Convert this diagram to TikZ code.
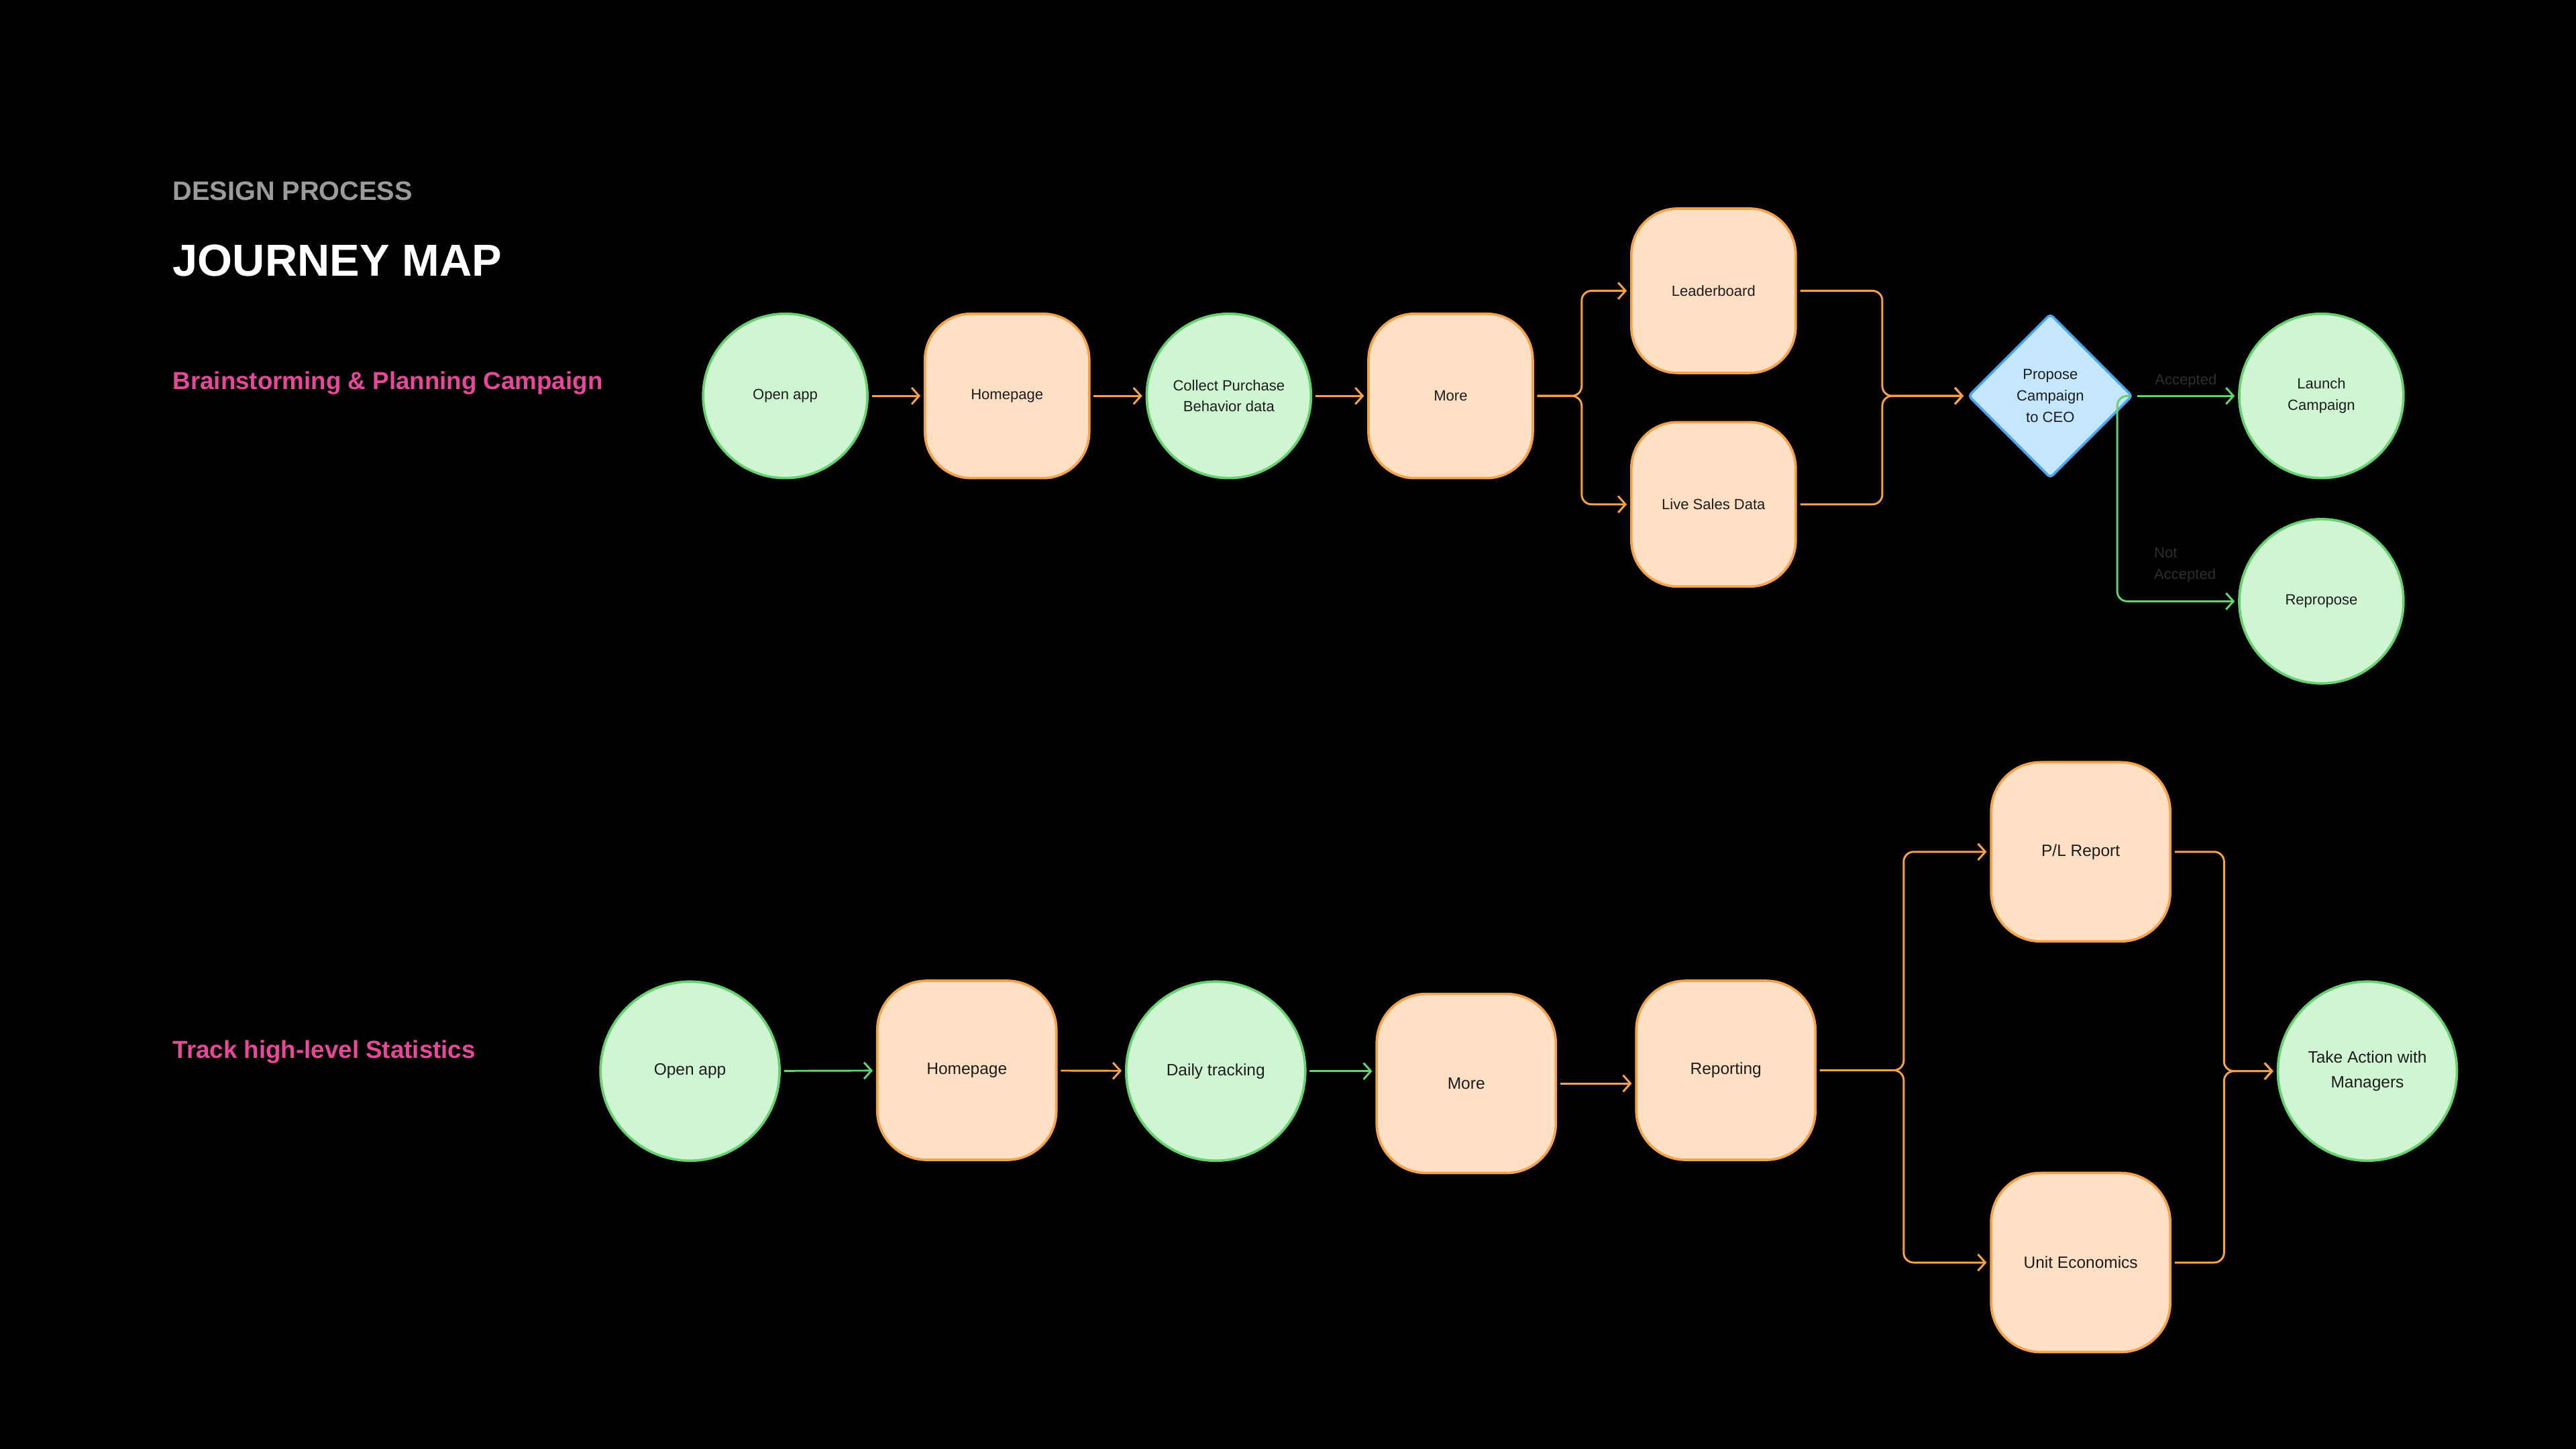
\documentclass[tikz,border=0pt]{standalone}
\usepackage{fontspec}
\setmainfont{Liberation Sans}
\usetikzlibrary{shapes,arrows.meta,positioning,calc}

\definecolor{mintfill}{HTML}{CFF5D3}
\definecolor{mintline}{HTML}{66D16F}
\definecolor{peachfill}{HTML}{FFE0C4}
\definecolor{peachline}{HTML}{F5A24A}
\definecolor{skyfill}{HTML}{C4E6FF}
\definecolor{skyline}{HTML}{4AA6F0}
\definecolor{pinktext}{HTML}{E8489A}
\definecolor{greytext}{HTML}{9B9B9B}
\definecolor{inktext}{HTML}{1C1C1C}
\definecolor{faint}{HTML}{2E2E2E}

\begin{document}
\begin{tikzpicture}[x=1pt, y=-1pt, node distance=135pt,
    >={Straight Barb[length=4.5pt,width=10pt]},
    every node/.style={text=inktext, align=center},
    gcirc/.style={draw=mintline, fill=mintfill, line width=1.5pt, circle, minimum size=100pt, inner sep=2pt, font=\fontsize{9}{13}\selectfont},
    obox/.style={draw=peachline, fill=peachfill, line width=1.5pt, rectangle, rounded corners=28pt, minimum size=100pt, inner sep=2pt, font=\fontsize{9}{13}\selectfont},
    decide/.style={draw=skyline, fill=skyfill, line width=1.5pt, diamond, minimum width=100pt, minimum height=100pt, inner sep=0pt, rounded corners=2pt, font=\fontsize{9}{13}\selectfont},
    big/.style={minimum size=109pt, rounded corners=30pt, font=\fontsize{10}{15}\selectfont},
    oline/.style={->, draw=peachline, line width=1.2pt, rounded corners=6pt, shorten <=2pt, shorten >=2pt},
    gline/.style={->, draw=mintline, line width=1.2pt, rounded corners=6pt, shorten <=2pt, shorten >=2pt},
    head/.style={anchor=base west, inner sep=0pt, font=\bfseries\fontsize{15}{18}\selectfont}]

    % background and page size
    \fill[black] (0,0) rectangle (1568,882);

    % titles
    \node[head, text=greytext, font=\bfseries\fontsize{16.2}{20}\selectfont] (kicker) at (105,122) {DESIGN PROCESS};
    \node[head, text=white, font=\bfseries\fontsize{27.3}{32}\selectfont] (title) at (105,168) {JOURNEY MAP};
    \node[head, text=pinktext] (flow1) at (105,237) {Brainstorming \& Planning Campaign};
    \node[head, text=pinktext] (flow2) at (105,644) {Track high-level Statistics};

    % first journey
    \node[gcirc] (open1) at (478,241) {Open app};
    \node[obox, right of=open1] (home1) {Homepage};
    \node[gcirc, right of=home1] (collect) {Collect Purchase\\Behavior data};
    \node[obox, right of=collect] (more1) {More};
    \node[obox] (board) at (1043,177) {Leaderboard};
    \node[obox] (live) at (1043,307) {Live Sales Data};
    \node[decide] (ceo) at (1248,241) {Propose\\Campaign\\to CEO};
    \node[gcirc] (launch) at (1413,241) {Launch\\Campaign};
    \node[gcirc] (repro) at (1413,366) {Repropose};

    \draw[oline] (open1) -- (home1);
    \draw[oline] (home1) -- (collect);
    \draw[oline] (collect) -- (more1);
    \draw[oline] (more1.east) -- ++(29,0) |- (board.west);
    \draw[oline] (more1.east) -- ++(29,0) |- (live.west);
    \draw[oline] (board.east) -- ++(52,0) |- (ceo.west);
    \draw[oline] (live.east) -- ++(52,0) |- (ceo.west);
    \draw[gline] (ceo.east) -- (launch) node[midway, above=1pt, text=faint, font=\fontsize{9}{13}\selectfont] (yes) {Accepted};
    \draw[gline] (ceo.east) -- ++(-10,0) |- (repro.west);
    \node[anchor=west, align=left, text=faint, font=\fontsize{9}{13}\selectfont, inner sep=0pt] (no) at (1311,344) {Not\\Accepted};

    % second journey
    \node[gcirc, big] (open2) at (420,652) {Open app};
    \node[obox, big] (home2) at (588.5,651.5) {Homepage};
    \node[gcirc, big] (daily) at (740,652) {Daily tracking};
    \node[obox, big] (more2) at (892.5,659.5) {More};
    \node[obox, big] (report) at (1050.5,651.5) {Reporting};
    \node[obox, big] (pl) at (1266.5,518.5) {P/L Report};
    \node[obox, big] (unit) at (1266.5,768.5) {Unit Economics};
    \node[gcirc, big] (action) at (1441,652) {Take Action with\\Managers};

    \draw[gline] (open2) -- (home2);
    \draw[oline] (home2) -- (daily);
    \draw[gline] (daily.east) -- (daily.east -| more2.west);
    \draw[oline] (more2.east) -- (more2.east -| report.west);
    \draw[oline] (report.east) -- ++(53,0) |- (pl.west);
    \draw[oline] (report.east) -- ++(53,0) |- (unit.west);
    \draw[oline] (pl.east) -- ++(32,0) |- (action.west);
    \draw[oline] (unit.east) -- ++(32,0) |- (action.west);
\end{tikzpicture}
\end{document}
